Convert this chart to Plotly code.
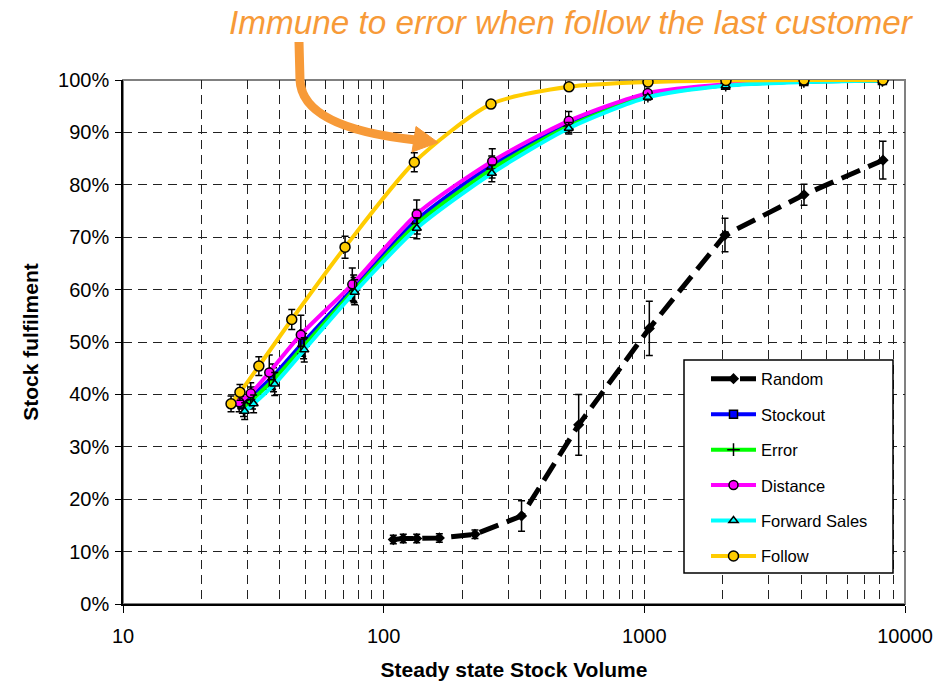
import plotly.graph_objects as go

# ---------------- data ----------------
x_tick_vals = [10, 100, 1000, 10000]
x_tick_text = ["10", "100", "1000", "10000"]
y_tick_vals = [0, 10, 20, 30, 40, 50, 60, 70, 80, 90, 100]
y_tick_text = ["0%", "10%", "20%", "30%", "40%", "50%", "60%", "70%", "80%", "90%", "100%"]

random_x = [108.9, 118.9, 133.9, 163.5, 224, 338, 560, 1045, 2039, 4098, 8234]
random_y = [12.3, 12.5, 12.5, 12.6, 13.3, 16.8, 34.2, 52.6, 70.4, 78.1, 84.7]
random_err = [0.8, 0.8, 0.8, 0.8, 0.8, 2.9, 5.8, 5.2, 3.2, 2.0, 3.6]

stockout_x = [28.7, 31.1, 37.5, 48.9, 76.7, 133.9, 259.7, 513, 1031, 2050, 4090, 8190]
stockout_y = [38.0, 39.6, 43.4, 49.8, 60.3, 73.3, 83.7, 91.5, 97.1, 99.0, 99.7, 99.9]
stockout_err = [1.6, 1.8, 2.4, 2.5, 2.5, 2.0, 1.8, 1.2, 0.5, 0.3, 0.2, 0.1]

error_x = [29.0, 31.4, 37.8, 49.3, 77.0, 134.5, 260.5, 514, 1032, 2052, 4092, 8192]
error_y = [37.4, 39.0, 42.8, 49.2, 59.9, 72.6, 83.0, 91.2, 96.9, 99.0, 99.7, 99.9]
error_err = [1.6, 1.8, 2.3, 2.4, 2.4, 2.0, 1.7, 1.2, 0.5, 0.3, 0.2, 0.1]

distance_x = [27.9, 30.9, 36.4, 48.1, 75.8, 133.9, 261, 513, 1030, 2050, 4094, 8200]
distance_y = [38.5, 40.2, 44.2, 51.4, 61.0, 74.4, 84.5, 92.2, 97.5, 99.2, 99.8, 100.0]
distance_err = [1.8, 2.0, 3.3, 3.7, 3.1, 2.7, 2.4, 1.8, 0.6, 0.3, 0.2, 0.1]

forward_x = [29.3, 31.7, 38.2, 49.6, 77.4, 134.0, 260, 513, 1031, 2051, 4093, 8192]
forward_y = [36.8, 38.2, 42.0, 48.5, 59.5, 71.7, 82.2, 90.8, 96.7, 98.9, 99.6, 99.9]
forward_err = [1.6, 1.7, 2.2, 2.3, 2.4, 2.0, 1.6, 1.1, 0.5, 0.3, 0.2, 0.1]

follow_x = [25.97, 28.1, 33.2, 44.4, 71.1, 131.1, 258, 514, 1033, 2057, 4098, 8234]
follow_y = [38.2, 40.4, 45.4, 54.3, 68.1, 84.3, 95.4, 98.7, 99.6, 99.9, 100.0, 100.0]
follow_err = [1.5, 1.5, 1.8, 1.9, 2.1, 1.8, 0.4, 0.3, 0.2, 0.1, 0.1, 0.1]

annotation_text = "Immune to error when follow the last customer"

# ---------------- figure ----------------
W, H = 952, 683
ML, MR, MT, MB = 123, 47, 80, 79
PW, PH = W - ML - MR, H - MT - MB


def px(x, y):
    """pixel -> paper coordinates (for decorations only)"""
    return (x - ML) / PW, (H - MB - y) / PH


FONT = "Liberation Sans, Arial, sans-serif"
ORANGE = "#F79A38"

fig = go.Figure()


def add_series(name, xs, ys, errs, color, symbol, size, mcolor, dash="solid", lw=4,
               shape="spline"):
    fig.add_trace(go.Scatter(
        x=xs, y=ys, name=name, legendgroup=name, mode="lines+markers",
        line=dict(color=color, width=lw, dash=dash, shape=shape,
                  smoothing=0.7 if shape == "spline" else None),
        marker=dict(symbol=symbol, size=size, color=mcolor,
                    line=dict(color="black", width=1.5)),
        error_y=dict(type="data", array=errs, visible=True, color="black",
                     thickness=1.5, width=3.5),
    ))


add_series("Random", random_x, random_y, random_err, "black", "diamond", 7, "black",
           dash="20px,9px", lw=5, shape="linear")
add_series("Stockout", stockout_x, stockout_y, stockout_err, "#0000FF", "square", 8, "#0000FF")
add_series("Error", error_x, error_y, error_err, "#00FF00", "cross-thin", 9, "black")
add_series("Distance", distance_x, distance_y, distance_err, "#FF00FF", "circle", 9, "#FF00FF")
add_series("Forward Sales", forward_x, forward_y, forward_err, "#00FFFF", "triangle-up", 8, "#00FFFF")
add_series("Follow", follow_x, follow_y, follow_err, "#FFCC00", "circle", 10, "#FFCC00")

# frame (grey top/right border)
fig.add_shape(type="rect", xref="paper", yref="paper", x0=0, x1=1, y0=0, y1=1,
              line=dict(color="#808080", width=2), layer="below")

# legend box
lx0, ly0 = px(684, 573)
lx1, ly1 = px(893, 360)
fig.add_shape(type="rect", xref="paper", yref="paper", x0=lx0, x1=lx1, y0=ly0, y1=ly1,
              line=dict(color="black", width=1.5), fillcolor="white", layer="above")

# curved arrow
p0 = px(299, 42)
p1 = px(300, 80)
c = px(302, 128)
p2 = px(416, 140)
fig.add_shape(type="path", xref="paper", yref="paper",
              path=f"M {p0[0]},{p0[1]} L {p1[0]},{p1[1]} Q {c[0]},{c[1]} {p2[0]},{p2[1]}",
              line=dict(color=ORANGE, width=9), layer="above")
t = px(438, 142.5)
a = px(416, 126.5)
b = px(412, 152)
fig.add_shape(type="path", xref="paper", yref="paper",
              path=f"M {t[0]},{t[1]} L {a[0]},{a[1]} L {b[0]},{b[1]} Z",
              line=dict(color=ORANGE, width=1), fillcolor=ORANGE, layer="above")

ax, ay = px(571, 23)
fig.add_annotation(text=f"<i>{annotation_text}</i>", xref="paper", yref="paper",
                   x=ax, y=ay, xanchor="center", yanchor="middle", showarrow=False,
                   font=dict(family="Liberation Sans Narrow, Arial Narrow, Liberation Sans",
                             size=33.3, color=ORANGE))

grid_minor = [v * m for m in (10, 100, 1000) for v in range(2, 10)]

fig.update_layout(
    width=W, height=H,
    margin=dict(l=ML, r=MR, t=MT, b=MB, autoexpand=False),
    paper_bgcolor="white", plot_bgcolor="white",
    font=dict(family=FONT, size=16, color="black"),
    showlegend=True,
    legend=dict(x=px(706, 0)[0], y=px(0, 361.5)[1], xanchor="left", yanchor="top",
                bgcolor="rgba(0,0,0,0)", borderwidth=0,
                font=dict(family=FONT, size=16.5, color="black"),
                tracegroupgap=11, itemwidth=45),
    xaxis=dict(
        type="log", range=[1, 4],
        tickvals=x_tick_vals, ticktext=x_tick_text,
        ticks="outside", ticklen=7, tickwidth=1, tickcolor="black",
        showline=True, linecolor="black", linewidth=1.5,
        showgrid=True, gridcolor="#222222", gridwidth=1, griddash="9px,6px",
        minor=dict(tickvals=grid_minor, showgrid=True, gridcolor="#222222",
                   gridwidth=1, griddash="9px,6px", ticks=""),
        tickfont=dict(size=20), ticklabelstandoff=6,
        title=dict(text="<b>Steady state Stock Volume</b>", font=dict(size=21), standoff=17),
        zeroline=False,
    ),
    yaxis=dict(
        range=[0, 100], tickvals=y_tick_vals, ticktext=y_tick_text,
        ticks="outside", ticklen=6, tickwidth=1, tickcolor="black",
        showline=True, linecolor="black", linewidth=1.5,
        showgrid=True, gridcolor="#222222", gridwidth=1, griddash="9px,6px",
        tickfont=dict(size=20), ticklabelstandoff=2,
        title=dict(text="<b>Stock fulfilment</b>", font=dict(size=21), standoff=14),
        zeroline=False,
    ),
)

fig.write_html("out.html")
